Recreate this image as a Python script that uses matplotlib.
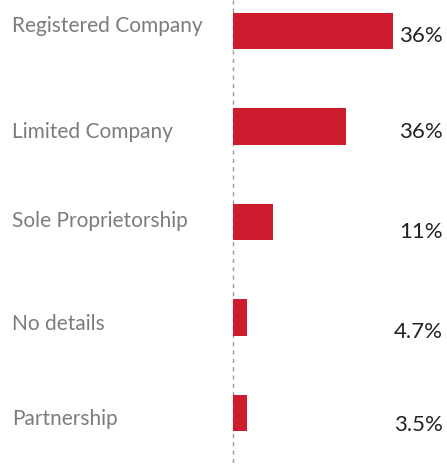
import matplotlib
matplotlib.use("Agg")
import matplotlib.pyplot as plt
from matplotlib.transforms import blended_transform_factory, offset_copy

# ---- data ----
categories = ["Registered Company", "Limited Company", "Sole Proprietorship",
              "No details", "Partnership"]
bar_values = [36.0, 25.4, 9.1, 3.1, 3.1]          # bar lengths as drawn
value_labels = ["36%", "36%", "11%", "4.7%", "3.5%"]

# ---- layout (pixel offsets of text baselines relative to bar centre) ----
label_dy = [1, 11, 5, 13, 12]
value_dy = [11, 11, 16, 20, 18]

W, H, DPI = 447, 468, 100
fig = plt.figure(figsize=(W / DPI, H / DPI), dpi=DPI)
ax = fig.add_axes([233 / W, 0, (W - 233) / W, 1])

bar_color = "#CD1C2E"
ypos = list(range(len(categories)))
ax.barh(ypos, bar_values, height=0.377, color=bar_color, align="center")

ax.set_xlim(0, 36 * (W - 233) / 160)
px_per_unit = 95.5
top = -31 / px_per_unit
bottom = 4 + (H - 413) / px_per_unit
ax.set_ylim(bottom, top)
ax.axis("off")

# dashed axis line
ax.plot([0, 0], [top, 4 + (465 - 413) / px_per_unit], color="#9a9a9a",
        lw=1.0, ls=(0, (3, 3)), clip_on=False, zorder=0)

trans_fig_x = blended_transform_factory(fig.transFigure, ax.transData)
for i, (cat, val) in enumerate(zip(categories, value_labels)):
    t1 = offset_copy(trans_fig_x, fig=fig, x=0, y=-label_dy[i] * 72 / DPI, units="points")
    fig.text(12 / W, i, cat, transform=t1, ha="left", va="baseline",
             fontsize=15, color="#7c7c7c", family="Lato")
    t2 = offset_copy(trans_fig_x, fig=fig, x=0, y=-value_dy[i] * 72 / DPI, units="points")
    fig.text(443 / W, i, val, transform=t2, ha="right", va="baseline",
             fontsize=16, color="#222222", family="Lato")

fig.savefig("out.png", dpi=DPI)
